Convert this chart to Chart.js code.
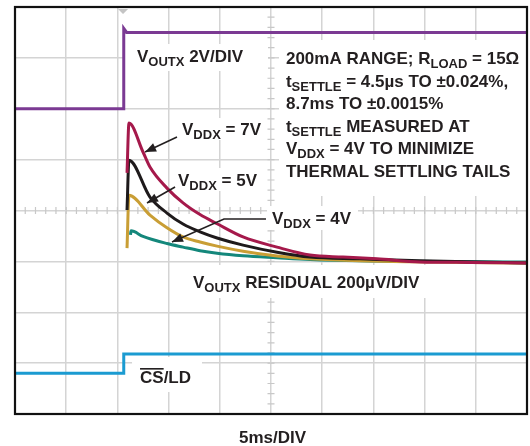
<!DOCTYPE html>
<html><head><meta charset="utf-8">
<script src="https://cdn.jsdelivr.net/npm/chart.js@4"></script>
<style>html,body{margin:0;padding:0;background:#fff}canvas{display:block}</style>
</head><body>
<canvas id="c" width="530" height="446"></canvas>
<script>
// ---- data (time in ms, amplitude in screen divisions) ----
const voutxTime = [0, 10.6, 10.62, 10.9, 50];
const voutxDiv  = [6.0, 6.0, 7.58, 7.5, 7.5];

const csTime = [0, 10.6, 10.62, 50];
const csDiv  = [0.8, 0.8, 1.18, 1.18];

const vddx7Time = [10.94, 11.13, 12.5, 13.18, 14.84, 16.41, 18.07, 19.73, 22.27, 25.59, 28.81, 32.03, 35.35, 39.55, 44.43, 50];
const vddx7Div  = [4.74, 5.72, 5.15, 4.855, 4.44, 4.15, 3.92, 3.74, 3.48, 3.28, 3.125, 3.085, 3.05, 2.99, 2.98, 2.97];

const vddx5Time = [10.94, 11.13, 13.18, 14.84, 16.41, 18.07, 19.73, 22.27, 25.59, 28.81, 33.69, 39.55, 50];
const vddx5Div  = [4.01, 4.99, 4.265, 3.95, 3.735, 3.58, 3.46, 3.32, 3.18, 3.085, 3.05, 3.01, 2.97];

const vddxGoldTime = [10.94, 11.13, 13.18, 14.84, 16.41, 18.07, 19.73, 22.27, 25.59, 28.81, 33.69, 50];
const vddxGoldDiv  = [3.26, 4.30, 3.91, 3.66, 3.48, 3.38, 3.30, 3.20, 3.105, 3.05, 3.01, 2.97];

const vddx4Time = [11.28, 11.33, 12.5, 14.84, 16.41, 18.07, 19.73, 22.27, 25.59, 28.81, 33.69, 50];
const vddx4Div  = [3.52, 3.60, 3.49, 3.35, 3.28, 3.21, 3.16, 3.11, 3.07, 3.035, 3.01, 2.99];

const xTicks = [0, 5, 10, 15, 20, 25, 30, 35, 40, 45, 50];
const yTicks = [0, 1, 2, 3, 4, 5, 6, 7, 8];

function pts(t, v){ return t.map((x,i)=>({x:x, y:v[i]})); }

const FONT = '"Liberation Sans", Arial, sans-serif';
const TXT = '#231F20';

function rich(ctx, x, y, parts){
  let cx = x;
  for (const p of parts){
    const sub = p[1] === 's';
    ctx.font = 'bold ' + (sub ? 13 : 17) + 'px ' + FONT;
    ctx.fillText(p[0], cx, sub ? y + 4 : y);
    cx += ctx.measureText(p[0]).width;
  }
  return cx;
}

const deco = {
  id: 'deco',
  beforeDatasetsDraw(chart){
    const ctx = chart.ctx, xs = chart.scales.x, ys = chart.scales.y;
    const X = v => xs.getPixelForValue(v), Y = v => ys.getPixelForValue(v);
    ctx.save();
    // minor ticks on centre lines
    ctx.strokeStyle = '#c8c8c8'; ctx.lineWidth = 1.2;
    ctx.beginPath();
    for (let t = 0; t <= 50; t += 1){ const px = X(t); ctx.moveTo(px, Y(4)-3.5); ctx.lineTo(px, Y(4)+3.5); }
    for (let d = 0; d <= 8.001; d += 0.2){ const py = Y(d); ctx.moveTo(X(25)-3.5, py); ctx.lineTo(X(25)+3.5, py); }
    ctx.stroke();
    // white label boxes
    ctx.fillStyle = '#fff';
    const boxes = [
      [10.64, 7.273, 24.71, 6.742],
      [25.78, 7.351, 49.9, 4.285],
      [15.92, 5.818, 24.51, 5.386],
      [15.53, 4.835, 24.12, 4.383],
      [24.61, 4.088, 33.5, 3.617],
      [16.89, 2.929, 40.33, 2.280],
      [11.43, 1.120, 18.26, 0.432]
    ];
    for (const b of boxes){ ctx.fillRect(X(b[0]), Y(b[1]), X(b[2])-X(b[0]), Y(b[3])-Y(b[1])); }
    // trigger marker
    const tx = X(10.55), top = chart.chartArea.top;
    ctx.fillStyle = '#c4c4c4';
    ctx.beginPath(); ctx.moveTo(tx-5, top+2); ctx.lineTo(tx+5, top+2); ctx.lineTo(tx, top+7); ctx.closePath(); ctx.fill();
    // texts
    ctx.fillStyle = TXT; ctx.textBaseline = 'alphabetic'; ctx.textAlign = 'left';
    rich(ctx, X(11.91), Y(6.919), [['V'],['OUTX','s'],[' 2V/DIV']]);
    const bx = X(26.46);
    rich(ctx, bx, Y(6.880), [['200mA RANGE; R'],['LOAD','s'],[' = 15Ω']]);
    rich(ctx, bx, Y(6.427), [['t'],['SETTLE','s'],[' = 4.5µs TO ±0.024%,']]);
    rich(ctx, bx, Y(5.995), [['8.7ms TO ±0.0015%']]);
    rich(ctx, bx, Y(5.543), [['t'],['SETTLE','s'],[' MEASURED AT']]);
    rich(ctx, bx, Y(5.111), [['V'],['DDX','s'],[' = 4V TO MINIMIZE']]);
    rich(ctx, bx, Y(4.658), [['THERMAL SETTLING TAILS']]);
    rich(ctx, X(16.31), Y(5.484), [['V'],['DDX','s'],[' = 7V']]);
    rich(ctx, X(15.92), Y(4.482), [['V'],['DDX','s'],[' = 5V']]);
    rich(ctx, X(25.10), Y(3.735), [['V'],['DDX','s'],[' = 4V']]);
    rich(ctx, X(17.38), Y(2.477), [['V'],['OUTX','s'],[' RESIDUAL 200µV/DIV']]);
    const csx = X(12.21), csy = Y(0.609);
    ctx.font = 'bold 17px ' + FONT;
    ctx.fillText('CS/LD', csx, csy);
    const w = ctx.measureText('CS').width;
    ctx.fillRect(csx, csy - 15, w, 1.6);
    ctx.fillText('5ms/DIV', X(21.88), Y(-0.57));
    ctx.restore();
  },
  afterDatasetsDraw(chart){
    const ctx = chart.ctx, xs = chart.scales.x, ys = chart.scales.y;
    const X = v => xs.getPixelForValue(v), Y = v => ys.getPixelForValue(v);
    ctx.save();
    ctx.strokeStyle = TXT; ctx.fillStyle = TXT; ctx.lineWidth = 1.6;
    function arrow(points){
      ctx.beginPath();
      points.forEach((p,i)=>{ const px=X(p[0]), py=Y(p[1]); if(i===0) ctx.moveTo(px,py); else ctx.lineTo(px,py); });
      const a = points[points.length-2], b = points[points.length-1];
      const ax=X(a[0]), ay=Y(a[1]), bx=X(b[0]), by=Y(b[1]);
      const ang = Math.atan2(by-ay, bx-ax);
      const L = 11, W = 4.5;
      const cx = bx - L*Math.cos(ang), cy = by - L*Math.sin(ang);
      ctx.lineTo(cx, cy);
      ctx.stroke();
      ctx.beginPath();
      ctx.moveTo(bx, by);
      ctx.lineTo(cx + W*Math.sin(ang), cy - W*Math.cos(ang));
      ctx.lineTo(cx - W*Math.sin(ang), cy + W*Math.cos(ang));
      ctx.closePath(); ctx.fill();
    }
    arrow([[15.82,5.445],[12.70,5.150]]);
    arrow([[15.63,4.462],[12.89,4.147]]);
    arrow([[24.51,3.833],[20.41,3.833],[15.33,3.381]]);
    // frame
    const ca = chart.chartArea;
    ctx.strokeStyle = '#111'; ctx.lineWidth = 2.2;
    ctx.strokeRect(ca.left, ca.top, ca.right-ca.left, ca.bottom-ca.top);
    ctx.restore();
  }
};

const common = {showLine:true, pointRadius:0, borderWidth:3, fill:false};
new Chart(document.getElementById('c').getContext('2d'), {
  type: 'scatter',
  data: { datasets: [
    Object.assign({label:'VDDX = 7V', data: pts(vddx7Time, vddx7Div), borderColor:'#A5194B', cubicInterpolationMode:'monotone'}, common),
    Object.assign({label:'VDDX = 5V', data: pts(vddx5Time, vddx5Div), borderColor:'#1E1A1B', cubicInterpolationMode:'monotone'}, common),
    Object.assign({label:'VDDX (gold)', data: pts(vddxGoldTime, vddxGoldDiv), borderColor:'#C99E35', cubicInterpolationMode:'monotone'}, common),
    Object.assign({label:'VDDX = 4V', data: pts(vddx4Time, vddx4Div), borderColor:'#14877B', cubicInterpolationMode:'monotone'}, common),
    Object.assign({label:'VOUTX', data: pts(voutxTime, voutxDiv), borderColor:'#7B3A93', tension:0}, common),
    Object.assign({label:'CS/LD', data: pts(csTime, csDiv), borderColor:'#1B9BD1', tension:0}, common)
  ]},
  options: {
    responsive:false, animation:false, devicePixelRatio:1,
    layout:{padding:{left:15, top:7, right:3, bottom:32}},
    plugins:{legend:{display:false}, tooltip:{enabled:false}},
    scales:{
      x:{type:'linear', min:0, max:50, afterBuildTicks: s => { s.ticks = xTicks.map(v=>({value:v})); },
         ticks:{display:false}, grid:{color:'#d4d4d4', lineWidth:1.5, drawTicks:false}, border:{display:false}},
      y:{type:'linear', min:0, max:8, afterBuildTicks: s => { s.ticks = yTicks.map(v=>({value:v})); },
         ticks:{display:false}, grid:{color:'#d4d4d4', lineWidth:1.5, drawTicks:false}, border:{display:false}}
    }
  },
  plugins:[deco]
});
</script>
</body></html>
